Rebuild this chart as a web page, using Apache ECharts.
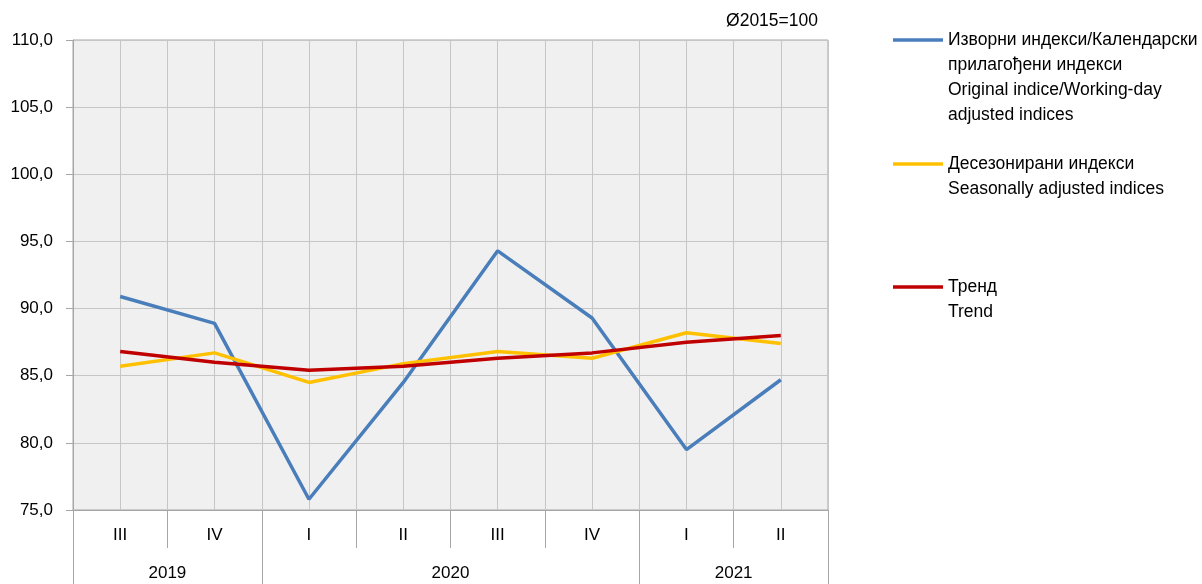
<!DOCTYPE html>
<html>
<head>
<meta charset="utf-8">
<script src="https://cdn.jsdelivr.net/npm/echarts@6/dist/echarts.min.js"></script>
<style>
html,body{margin:0;padding:0;background:#fff;}
#chart{width:1202px;height:584px;}
</style>
</head>
<body>
<div id="chart"></div>
<script>
// ---- data ----
const quarters = ['III', 'IV', 'I', 'II', 'III', 'IV', 'I', 'II'];
const years = ['2019', '2020', '2021'];
const yearQuarterCounts = [2, 4, 2];
const originalIdx = [90.9, 88.9, 75.8, 84.5, 94.3, 89.3, 79.5, 84.7];
const seasonalIdx = [85.7, 86.7, 84.5, 85.9, 86.8, 86.3, 88.2, 87.4];
const trendIdx = [86.8, 86.0, 85.4, 85.7, 86.3, 86.7, 87.5, 88.0];
const yTicks = [75, 80, 85, 90, 95, 100, 105, 110];
const seriesNames = [
  'Изворни индекси/Календарски\nприлагођени индекси\nOriginal indice/Working-day\nadjusted indices',
  'Десезонирани индекси\nSeasonally adjusted indices',
  'Тренд\nTrend'
];
const baseNote = 'Ø2015=100';

// ---- derived year boundaries / centres ----
const yearBounds = [0];
yearQuarterCounts.forEach(c => yearBounds.push(yearBounds[yearBounds.length - 1] + c));
const yearCenters = years.map((y, i) => (yearBounds[i] + yearBounds[i + 1]) / 2);

const regular = "'Liberation Sans', Arial, sans-serif";
const axisFont = 17;
const axisGray = '#a6a6a6';
const gridGray = '#c6c6c6';
const colors = ['#4a7ebb', '#ffc000', '#c00000'];
const LH = 25;

function legendFor(i, iconY) {
  const nLines = seriesNames[i].split('\n').length;
  const pad = nLines - 1;
  const total = (nLines + pad) * LH;
  return {
    data: [seriesNames[i]],
    orient: 'vertical',
    left: 893,
    top: iconY - total / 2,
    icon: 'rect',
    itemWidth: 50,
    itemHeight: 3.5,
    padding: 0,
    selectedMode: false,
    formatter: name => '\n'.repeat(pad) + name,
    textStyle: { fontFamily: regular, fontSize: 17.5, color: '#000', lineHeight: LH }
  };
}

const chart = echarts.init(document.getElementById('chart'), null, { renderer: 'canvas' });
chart.setOption({
  animation: false,
  backgroundColor: '#ffffff',
  color: colors,
  title: {
    text: baseNote,
    right: 384,
    top: 12,
    padding: 0,
    textStyle: { fontFamily: regular, fontSize: 17.5, fontWeight: 'normal', color: '#000' }
  },
  legend: [legendFor(0, 40), legendFor(1, 164), legendFor(2, 287)],
  grid: {
    left: 73, right: 374, top: 40, bottom: 74,
    show: true, backgroundColor: '#f0f0f0', borderColor: axisGray, borderWidth: 1,
    containLabel: false
  },
  xAxis: [
    {
      type: 'category',
      data: quarters,
      boundaryGap: true,
      position: 'bottom',
      axisLine: { show: true, lineStyle: { color: axisGray, width: 1 } },
      axisTick: { show: true, interval: 0, length: 38, lineStyle: { color: axisGray, width: 1 } },
      axisLabel: { interval: 0, margin: 17, fontFamily: regular, fontSize: axisFont, color: '#000' },
      splitLine: { show: false }
    },
    {
      type: 'value',
      min: 0,
      max: yearBounds[yearBounds.length - 1],
      position: 'bottom',
      offset: 38,
      axisLine: { show: false },
      axisTick: { show: true, customValues: yearBounds, length: 36, lineStyle: { color: axisGray, width: 1 } },
      axisLabel: {
        show: true, customValues: yearCenters, margin: 17,
        fontFamily: regular, fontSize: axisFont, color: '#000',
        formatter: v => { const k = yearCenters.indexOf(v); return k >= 0 ? years[k] : ''; }
      },
      splitLine: { show: false }
    },
    {
      type: 'value',
      min: 0,
      max: quarters.length * 2,
      interval: 1,
      show: true,
      position: 'top',
      axisLine: { show: false },
      axisTick: { show: false },
      axisLabel: { show: false },
      splitLine: { show: true, lineStyle: { color: gridGray, width: 1 } }
    }
  ],
  yAxis: {
    type: 'value',
    min: yTicks[0],
    max: yTicks[yTicks.length - 1],
    interval: yTicks[1] - yTicks[0],
    axisLine: { show: true, lineStyle: { color: axisGray, width: 1 } },
    axisTick: { show: true, length: 7, lineStyle: { color: axisGray, width: 1 } },
    axisLabel: {
      margin: 20, fontFamily: regular, fontSize: axisFont, color: '#000',
      formatter: v => v.toFixed(1).replace('.', ',')
    },
    splitLine: { show: true, lineStyle: { color: gridGray, width: 1 } }
  },
  series: [
    { name: seriesNames[0], type: 'line', xAxisIndex: 0, data: originalIdx, symbol: 'none', lineStyle: { width: 3.5, color: colors[0] }, z: 3 },
    { name: seriesNames[1], type: 'line', xAxisIndex: 0, data: seasonalIdx, symbol: 'none', lineStyle: { width: 3.5, color: colors[1] }, z: 4 },
    { name: seriesNames[2], type: 'line', xAxisIndex: 0, data: trendIdx, symbol: 'none', lineStyle: { width: 3.5, color: colors[2] }, z: 5 }
  ]
});
</script>
</body>
</html>
